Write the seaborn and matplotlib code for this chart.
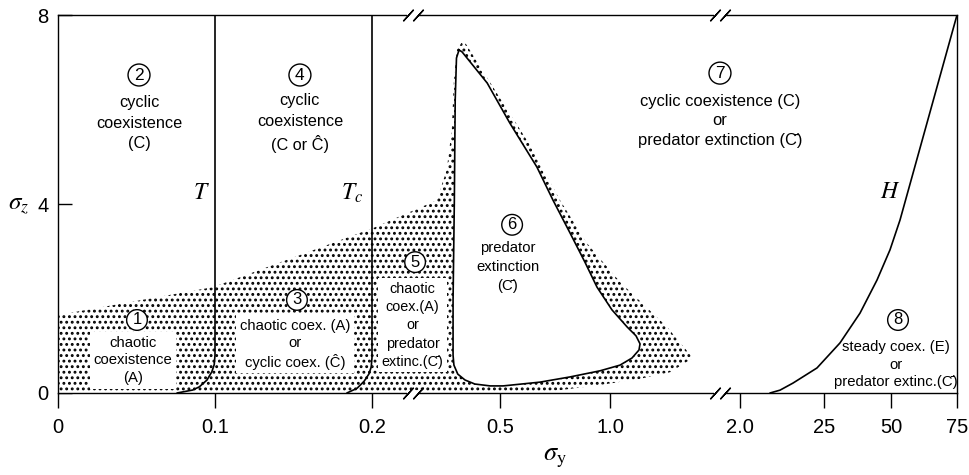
import numpy as np
import matplotlib
matplotlib.use('Agg')
import matplotlib.pyplot as plt
import seaborn as sns
import pandas as pd
from matplotlib.transforms import blended_transform_factory, ScaledTranslation

# ---------------- data ----------------
# broken sigma_y axis: tick values and their relative spacing along the axis
xtick_values = [0, 0.1, 0.2, 0.5, 1.0, 2.0, 25, 50, 75]
xtick_labels = ['0', '0.1', '0.2', '0.5', '1.0', '2.0', '25', '50', '75']
xtick_pos = [0, 157, 314, 442, 552, 682, 766, 833, 899]
ytick_values = [0, 4, 8]
ytick_labels = ['0', '4', '8']
axis_breaks = [0.296, 1.846]

# boundary T
T_x = [0.1, 0.1, 0.0995, 0.098, 0.0949, 0.090, 0.0858, 0.0758]
T_y = [8, 0.8, 0.6, 0.45, 0.275, 0.13, 0.063, 0]
# boundary Tc
Tc_x = [0.2, 0.2, 0.1995, 0.198, 0.195, 0.1905, 0.184]
Tc_y = [8, 0.75, 0.55, 0.4, 0.25, 0.1, 0]
# boundary H
H_x = [10.21, 12.95, 16.51, 23.08, 30.97, 38.43, 44.77, 49.63, 53.41, 75]
H_y = [0, 0.06, 0.21, 0.53, 1.06, 1.69, 2.39, 3.03, 3.66, 8]

# stippled (chaotic) region outline
stip_x = [0, 0, 0.0987, 0.2023, 0.352, 0.375, 0.387, 0.392, 0.399, 0.411,
          0.420, 0.5, 0.636, 0.773, 0.895, 1.077, 1.438, 1.638,
          1.462, 1.231, 0.955, 0.773, 0.591]
stip_y = [0, 1.65, 2.24, 3.49, 4.08, 4.72, 5.57, 6.62, 7.26, 7.43,
          7.39, 6.24, 5.25, 4.08, 3.17, 2.35, 1.40, 0.74,
          0.44, 0.30, 0.17, 0.06, 0]

# region 6 (predator extinction) outline
r6_x = [0.404, 0.411, 0.470, 0.545, 0.668, 0.741, 0.818, 0.886, 0.941, 1.015,
        1.131, 1.200, 1.231, 1.223, 1.169, 1.077, 0.955, 0.818, 0.682, 0.514,
        0.477, 0.441, 0.418, 0.401, 0.392, 0.390, 0.390, 0.393, 0.395, 0.398,
        0.404]
r6_y = [7.26, 7.22, 6.56, 5.71, 4.78, 4.08, 3.39, 2.77, 2.24, 1.76,
        1.40, 1.21, 1.04, 0.91, 0.74, 0.59, 0.47, 0.34, 0.23, 0.15,
        0.15, 0.19, 0.275, 0.40, 0.59, 0.80, 1.97, 4.08, 6.20, 7.09,
        7.26]

CB = 'C\u0304'   # C with bar
CH = '\u0108'    # C with hat

# region labels: number, text, circle x, circle y, text x, text y, linespacing, size, boxed
regions = [
    ('2', 'cyclic\ncoexistence\n(C)', 0.0516, 6.73, 0.0516, 5.71, 1.44, 11.7, False),
    ('4', 'cyclic\ncoexistence\n(C or ' + CH + ')', 0.1541, 6.73, 0.1541, 5.71, 1.44, 11.7, False),
    ('7', 'cyclic coexistence (C)\nor\npredator extinction (' + CB + ')', 1.846, 6.77, 1.846, 5.76, 1.35, 11.9, False),
    ('6', 'predator\nextinction\n(' + CB + ')', 0.555, 3.56, 0.536, 2.67, 1.45, 10.7, False),
    ('5', 'chaotic\ncoex.(A)\nor\npredator\nextinc.(' + CB + ')', 0.301, 2.77, 0.2955, 1.43, 1.38, 10.4, True),
    ('3', 'chaotic coex. (A)\nor\ncyclic coex. (' + CH + ')', 0.1522, 1.97, 0.151, 1.03, 1.27, 10.6, True),
    ('1', 'chaotic\ncoexistence\n(A)', 0.0503, 1.545, 0.0478, 0.69, 1.32, 10.7, True),
    ('8', 'steady coex. (E)\nor\npredator extinc.(' + CB + ')', 52.65, 1.545, 51.9, 0.60, 1.29, 10.7, False),
]

curve_labels = [(r'$T$', 0.0917, 4.23), (r'$T_c$', 0.1873, 4.23), (r'$H$', 49.6, 4.25)]

# ---------------- drawing ----------------
sns.set_theme(style='ticks')
plt.rcParams['font.family'] = ['Liberation Sans', 'DejaVu Sans']
plt.rcParams['mathtext.fontset'] = 'stix'
plt.rcParams['hatch.linewidth'] = 1.3
plt.rcParams['hatch.color'] = 'black'
plt.rcParams['text.color'] = 'black'

fig = plt.figure(figsize=(9.7, 4.75), dpi=100)
ax = fig.add_axes([58 / 970, 82 / 475, 899 / 970, 378 / 475])


def fwd(x):
    return np.interp(x, xtick_values, xtick_pos)


def inv(p):
    return np.interp(p, xtick_pos, xtick_values)


ax.set_xscale('function', functions=(fwd, inv))

ax.fill(stip_x, stip_y, facecolor='white', edgecolor='black', linewidth=0,
        hatch='...', zorder=1)
ax.fill(r6_x, r6_y, facecolor='white', edgecolor='none', zorder=2)

for xs, ys in [(T_x, T_y), (Tc_x, Tc_y), (H_x, H_y), (r6_x, r6_y)]:
    df = pd.DataFrame({'x': xs, 'y': ys})
    sns.lineplot(data=df, x='x', y='y', sort=False, estimator=None,
                 color='black', linewidth=1.2, ax=ax, zorder=3)

ax.set_xlim(0, 75)
ax.set_ylim(0, 8)
ax.set_xlabel('')
ax.set_ylabel('')
ax.set_xticks(xtick_values)
ax.set_xticklabels(xtick_labels)
ax.set_yticks(ytick_values)
ax.set_yticklabels(ytick_labels)
ax.minorticks_off()
ax.tick_params(axis='x', direction='out', length=11, width=1, pad=7,
               labelsize=14.5, colors='black')
ax.tick_params(axis='y', direction='in', length=10, width=1, pad=7,
               labelsize=14.5, colors='black')
for s in ax.spines.values():
    s.set_color('black')
    s.set_linewidth(1.0)

label_font = ['Liberation Sans', 'DejaVu Sans']
for num, txt, cx, cy, tx, ty, ls, fs, boxed in regions:
    big = fs > 11
    ax.text(cx, cy, num, ha='center', va='center', fontsize=12.5 if big else 12,
            family=label_font, zorder=6, color='black',
            bbox=dict(boxstyle='circle,pad=%s' % (0.2 if big else 0.17),
                      fc='white', ec='black', lw=1.0))
    kw = dict(ha='center', va='center', multialignment='center', color='black',
              fontsize=fs, family=label_font, linespacing=ls, zorder=6)
    if boxed:
        kw['bbox'] = dict(boxstyle='square,pad=0.25', fc='white', ec='none')
    ax.text(tx, ty, txt, **kw)

for txt, x, y in curve_labels:
    ax.text(x, y, txt, ha='center', va='center', fontsize=17, zorder=6)

bt = blended_transform_factory(ax.transData, ax.transAxes)
ax.text(0.75, -0.172, r'$\sigma_\mathrm{y}$', transform=bt, ha='center',
        va='center', fontsize=19)
bty = blended_transform_factory(ax.transAxes, ax.transData)
ax.text(-0.0434, 3.98, r'$\sigma_z$', transform=bty, ha='center',
        va='center', fontsize=18)

# axis break marks
for xb in axis_breaks:
    for yb in (0, 1):
        ax.plot([xb], [yb], marker='_', ms=9, mew=4, color='white',
                transform=bt, clip_on=False, zorder=7)
        for dx in (-3.8, 3.8):
            tr = bt + ScaledTranslation(dx / 72, 0, fig.dpi_scale_trans)
            ax.plot([xb], [yb], marker=(2, 2, -42), ms=11, mew=1.0,
                    color='black', transform=tr, clip_on=False, zorder=8)

fig.savefig('out.png', dpi=100)
